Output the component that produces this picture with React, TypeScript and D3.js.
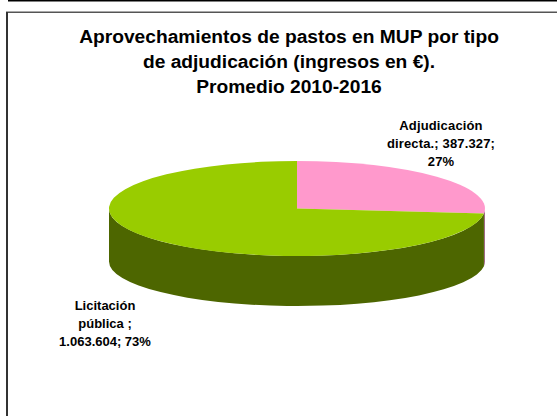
import React from "react";
import * as d3 from "d3";

const categories = ["Adjudicación directa.", "Licitación pública "];
const values = [387327, 1063604];
const topColors = ["#ff99cc", "#99cc00"];
const sideColors = ["#a06a85", "#4d6600"];
const titleLines = [
  "Aprovechamientos de pastos en MUP por tipo",
  "de adjudicación (ingresos en €).",
  "Promedio 2010-2016",
];
const labelLines = [
  ["Adjudicación", "directa.; 387.327;", "27%"],
  ["Licitación", "pública ;", "1.063.604; 73%"],
];

const width = 557;
const height = 416;
const cx = 297;
const cy = 208.5;
const rx = 188;
const ry = 47.5;
// lower rim sits on a slightly flatter ellipse, as in the perspective of the original
const bottomCy = 261.5;
const bottomRy = 44.5;
const font = "Liberation Sans, Arial, sans-serif";

const pie = d3.pie<number>().sort(null)(values);

// point on the rim, angle measured clockwise from 12 o'clock like d3.pie
const rimX = (a: number) => cx + rx * Math.sin(a);
const rimY = (a: number) => cy - ry * Math.cos(a);
const lowY = (a: number) => bottomCy - bottomRy * Math.cos(a);

const topPath = (a0: number, a1: number) => {
  const large = a1 - a0 > Math.PI ? 1 : 0;
  return `M${cx},${cy}L${rimX(a0)},${rimY(a0)}A${rx},${ry} 0 ${large} 1 ${rimX(a1)},${rimY(a1)}Z`;
};

// only the front half of the rim (90deg to 270deg) shows a wall
const wallPath = (a0: number, a1: number) => {
  const from = Math.max(a0, Math.PI / 2);
  const to = Math.min(a1, (3 * Math.PI) / 2);
  if (to <= from) return "";
  const large = to - from > Math.PI ? 1 : 0;
  return (
    `M${rimX(from)},${rimY(from)}A${rx},${ry} 0 ${large} 1 ${rimX(to)},${rimY(to)}` +
    `L${rimX(to)},${lowY(to)}A${rx},${bottomRy} 0 ${large} 0 ${rimX(from)},${lowY(from)}Z`
  );
};

export default function App() {
  return (
    <svg
      width={width}
      height={height}
      viewBox={`0 0 ${width} ${height}`}
      style={{ position: "fixed", left: 0, top: 0, background: "#fff" }}
    >
      <rect x={8} y={0} width={width - 8} height={1.5} fill="#000" />
      <rect x={6} y={11.5} width={width - 6} height={1.5} fill="#555" />
      <rect x={6} y={12} width={2} height={height - 12} fill="#333" />

      {pie.map((d, i) => (
        <path key={"wall" + i} d={wallPath(d.startAngle, d.endAngle)} fill={sideColors[i]} />
      ))}
      {pie.map((d, i) => (
        <path
          key={"top" + i}
          d={topPath(d.startAngle, d.endAngle)}
          fill={topColors[i]}
          aria-label={categories[i]}
        />
      ))}

      <g fontFamily={font} fontWeight="bold" fontSize={19.2} fill="#000" textAnchor="middle">
        {titleLines.map((t, i) => (
          <text key={t} x={289} y={43 + i * 25}>
            {t}
          </text>
        ))}
      </g>
      <g fontFamily={font} fontWeight="bold" fontSize={13} fill="#000" textAnchor="middle">
        {labelLines[0].map((t, i) => (
          <text key={t} x={441} y={129.5 + i * 18} letterSpacing={0.15}>
            {t}
          </text>
        ))}
        {labelLines[1].map((t, i) => (
          <text key={t} x={105} y={310 + i * 18}>
            {t}
          </text>
        ))}
      </g>
    </svg>
  );
}
